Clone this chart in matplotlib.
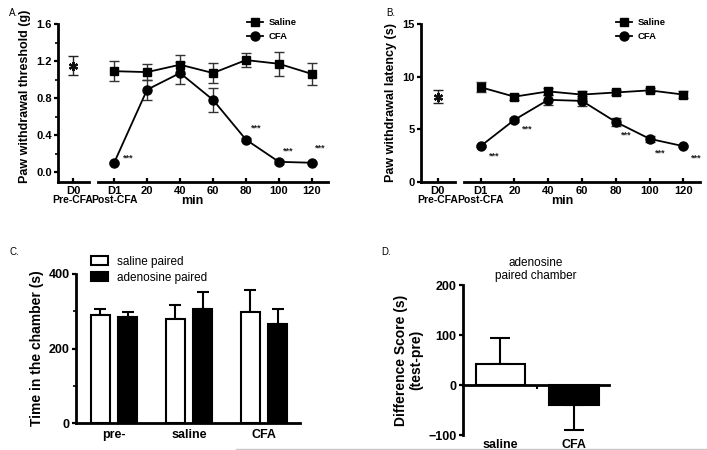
import matplotlib
matplotlib.use("Agg")
import matplotlib.pyplot as plt
import numpy as np
from matplotlib.ticker import MultipleLocator
from matplotlib.lines import Line2D

plt.rcParams['font.family'] = ['Liberation Sans', 'DejaVu Sans']

# ---------------- data ----------------
time_labels = ["D1", "20", "40", "60", "80", "100", "120"]
# Panel A: paw withdrawal threshold (g)
a_d0_mean, a_d0_err = 1.15, 0.10
a_saline = [1.09, 1.08, 1.16, 1.07, 1.21, 1.17, 1.06]
a_saline_err = [0.11, 0.09, 0.10, 0.11, 0.08, 0.13, 0.12]
a_cfa = [0.10, 0.89, 1.07, 0.78, 0.35, 0.11, 0.10]
a_cfa_err = [0.01, 0.11, 0.12, 0.13, 0.02, 0.02, 0.01]
a_star_idx = [0, 4, 5, 6]
# Panel B: paw withdrawal latency (s)
b_d0_mean, b_d0_err = 8.1, 0.6
b_saline = [9.0, 8.1, 8.6, 8.3, 8.5, 8.7, 8.3]
b_saline_err = [0.5, 0.3, 0.3, 0.3, 0.2, 0.2, 0.3]
b_cfa = [3.4, 5.9, 7.8, 7.7, 5.7, 4.1, 3.4]
b_cfa_err = [0.1, 0.2, 0.5, 0.5, 0.4, 0.3, 0.1]
b_star_idx = [0, 1, 4, 5, 6]
# Panel C: time in the chamber (s)
c_groups = ["pre-", "saline", "CFA"]
c_saline_paired = [290, 280, 298]
c_saline_paired_err = [15, 38, 58]
c_adenosine_paired = [285, 307, 267]
c_adenosine_paired_err = [13, 45, 38]
# Panel D: difference score (s)
d_groups = ["saline", "CFA"]
d_values = [43, -40]
d_errs = [52, 50]

W, H = 707, 450
fig = plt.figure(figsize=(W / 100, H / 100), dpi=100)


def fax(x0, y0, x1, y1):
    """axes from pixel box (x0,y0 top-left, x1,y1 bottom-right)"""
    return fig.add_axes([x0 / W, 1 - y1 / H, (x1 - x0) / W, (y1 - y0) / H])


SP_LW = 2.0
TICK_FS = 8.0


def style_axis(ax, left=True):
    for s in ['top', 'right']:
        ax.spines[s].set_visible(False)
    ax.spines['bottom'].set_linewidth(SP_LW)
    ax.spines['left'].set_linewidth(SP_LW)
    if not left:
        ax.spines['left'].set_visible(False)
        ax.tick_params(axis='y', left=False, labelleft=False, which='both')
    ax.tick_params(axis='both', which='major', direction='out', width=1.6, length=3,
                   labelsize=TICK_FS, pad=1.5)
    ax.tick_params(axis='both', which='minor', direction='out', width=1.2, length=2)
    for lab in ax.get_xticklabels() + ax.get_yticklabels():
        lab.set_fontweight('bold')
    ax.patch.set_alpha(0)


def line_panel(axL, axR, d0m, d0e, sal, sale, cfa, cfae, ylim, yticks, minor,
               ylabel, stars, star_offsets, ylabel_pad, leg_anchor):
    x = np.arange(len(time_labels))
    for ax in (axL, axR):
        ax.set_ylim(*ylim)
    axL.set_yticks(yticks)
    axL.set_yticklabels(yticks_fmt(yticks))
    if minor:
        axL.yaxis.set_minor_locator(MultipleLocator(minor))
    axL.set_xlim(-0.47, 0.49)
    axL.set_xticks([0])
    axL.set_xticklabels(["D0"])
    axL.errorbar([0], [d0m], yerr=[d0e], fmt='none', ecolor='#222222',
                 elinewidth=1.0, capsize=3.5, capthick=1.0)
    axL.plot([0], [d0m], marker=(6, 2, 0), color='#111111', markersize=6.5,
             markeredgewidth=1.6, linestyle='none')
    axL.set_ylabel(ylabel, fontsize=9, fontweight='bold', labelpad=ylabel_pad)

    axR.set_xlim(-0.49, 6.49)
    axR.set_xticks(x)
    axR.set_xticklabels(time_labels)
    axR.errorbar(x, sal, yerr=sale, fmt='none', ecolor='#333333', elinewidth=1.0,
                 capsize=3.5, capthick=1.0)
    axR.errorbar(x, cfa, yerr=cfae, fmt='none', ecolor='#333333', elinewidth=1.0,
                 capsize=3.5, capthick=1.0)
    axR.plot(x, sal, color='black', lw=1.3, marker='s', markersize=6.0, label='Saline')
    axR.plot(x, cfa, color='black', lw=1.3, marker='o', markersize=6.5, label='CFA')
    for i, (dx, dy) in zip(stars, star_offsets):
        axR.text(x[i] + dx, cfa[i] + dy, "***", fontsize=6.5, fontweight='bold',
                 ha='center', va='center', color='#222222')
    axR.legend(loc='upper right', frameon=False,
               prop={'weight': 'bold', 'size': 6.8}, handlelength=1.7,
               borderaxespad=0.0, labelspacing=0.55, handletextpad=0.6,
               bbox_to_anchor=leg_anchor)
    style_axis(axL, left=True)
    style_axis(axR, left=False)
    for ax in (axL, axR):
        ax.tick_params(axis='x', direction='in', length=3, pad=3)


def yticks_fmt(ticks):
    if any(abs(t - round(t)) > 1e-9 for t in ticks):
        return [f"{t:.1f}" for t in ticks]
    return [f"{int(t)}" for t in ticks]


# ---------------- Panel A ----------------
axAL = fax(58, 24, 89, 182)
axAR = fax(98, 24, 328, 182)
line_panel(axAL, axAR, a_d0_mean, a_d0_err, a_saline, a_saline_err, a_cfa, a_cfa_err,
           (-0.108, 1.6), [0.0, 0.4, 0.8, 1.2, 1.6], 0.2,
           "Paw withdrawal threshold (g)", a_star_idx,
           [(0.42, 0.05), (0.3, 0.126), (0.27, 0.117), (0.24, 0.16)], 2,
           (0.88, 1.06))
axAL.yaxis.set_label_coords(-0.88, 0.54)
fig.text(73 / W, 1 - 200 / H, "Pre-CFA", ha='center', va='center', fontsize=7.5, fontweight='bold')
fig.text(115 / W, 1 - 200 / H, "Post-CFA", ha='center', va='center', fontsize=7.5, fontweight='bold')
fig.text(192 / W, 1 - 201 / H, "min", ha='center', va='center', fontsize=9, fontweight='bold')

# ---------------- Panel B ----------------
axBL = fax(421, 24, 455, 182)
axBR = fax(464, 24, 700, 182)
line_panel(axBL, axBR, b_d0_mean, b_d0_err, b_saline, b_saline_err, b_cfa, b_cfa_err,
           (0, 15), [0, 5, 10, 15], None,
           "Paw withdrawal latency (s)", b_star_idx,
           [(0.39, -0.9), (0.39, -0.84), (0.3, -1.2), (0.31, -1.33), (0.39, -1.1)], 4,
           (0.87, 1.06))
fig.text(438 / W, 1 - 200 / H, "Pre-CFA", ha='center', va='center', fontsize=7.5, fontweight='bold')
fig.text(481 / W, 1 - 200 / H, "Post-CFA", ha='center', va='center', fontsize=7.5, fontweight='bold')
fig.text(562 / W, 1 - 201 / H, "min", ha='center', va='center', fontsize=9, fontweight='bold')

# ---------------- Panel C ----------------
axC = fax(76, 274, 300, 423)
xc = np.arange(len(c_groups))
bw = 0.255
off = 0.185
axC.bar(xc - off, c_saline_paired, width=bw, color='white', edgecolor='black',
        linewidth=1.5, label='saline paired', zorder=2)
axC.bar(xc + off, c_adenosine_paired, width=bw, color='black', edgecolor='black',
        linewidth=1.5, label='adenosine paired', zorder=2)
axC.errorbar(xc - off, c_saline_paired, yerr=[np.zeros(3), c_saline_paired_err],
             fmt='none', ecolor='black', elinewidth=1.5, capsize=4, capthick=1.5, zorder=1)
axC.errorbar(xc + off, c_adenosine_paired, yerr=[np.zeros(3), c_adenosine_paired_err],
             fmt='none', ecolor='black', elinewidth=1.5, capsize=4, capthick=1.5, zorder=1)
axC.set_xlim(-0.507, 2.48)
axC.set_ylim(0, 400)
axC.set_yticks([0, 200, 400])
axC.yaxis.set_minor_locator(MultipleLocator(100))
axC.set_xticks(xc)
axC.set_xticklabels(c_groups)
axC.set_ylabel("Time in the chamber (s)", fontsize=10, fontweight='bold', labelpad=3)
style_axis(axC)
axC.tick_params(axis='x', length=0, pad=4)
axC.legend(loc='upper left', bbox_to_anchor=(0.045, 1.155), frameon=False, fontsize=8.5,
           handlelength=1.45, handleheight=0.85, labelspacing=0.35, handletextpad=0.75,
           borderaxespad=0)

# ---------------- Panel D ----------------
axD = fax(463, 285, 609, 435)
xd = np.arange(len(d_groups))
axD.bar(xd, d_values, width=0.667, color=['white', 'black'], edgecolor='black',
        linewidth=1.5, zorder=2)
for xi, v, e in zip(xd, d_values, d_errs):
    axD.errorbar([xi], [v], yerr=[[0], [e]] if v >= 0 else [[e], [0]], fmt='none',
                 ecolor='black', elinewidth=1.5, capsize=7, capthick=1.5, zorder=1)
axD.set_xlim(-0.51, 1.476)
axD.set_ylim(-100, 200)
axD.set_yticks([-100, 0, 100, 200])
axD.set_xticks(xd)
axD.set_xticklabels(d_groups)
axD.set_xticks([0.5], minor=True)
axD.set_ylabel("Difference Score (s)\n(test-pre)", fontsize=10, fontweight='bold',
               labelpad=4, linespacing=1.1)
style_axis(axD)
axD.spines['bottom'].set_position(('data', 0))
axD.tick_params(axis='x', which='major', length=0, pad=39)
axD.tick_params(axis='x', which='minor', length=3, width=1.5)
axD.set_title("adenosine\npaired chamber", fontsize=8.5, pad=4, linespacing=1.15)

for lab in (axC.get_xticklabels() + axC.get_yticklabels() +
            axD.get_xticklabels() + axD.get_yticklabels()):
    lab.set_fontweight('bold')
    lab.set_fontsize(9)

# panel letters
fig.text(9 / W, 1 - 13 / H, "A.", fontsize=7, ha='left', va='center')
fig.text(386 / W, 1 - 13 / H, "B.", fontsize=7, ha='left', va='center')
fig.text(10 / W, 1 - 252 / H, "C.", fontsize=7, ha='left', va='center')
fig.text(381 / W, 1 - 252 / H, "D.", fontsize=7, ha='left', va='center')

# thin grey rule at bottom
fig.add_artist(Line2D([236 / W, 1.0], [1 - 448.5 / H, 1 - 448.5 / H],
                      transform=fig.transFigure, color='#c8c8c8', lw=1.0))

fig.savefig("out.png", dpi=100)
